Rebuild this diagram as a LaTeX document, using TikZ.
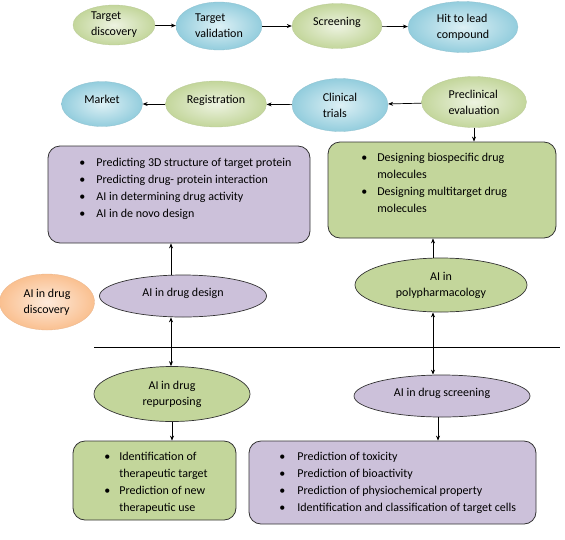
\documentclass[tikz,border=0pt]{standalone}
\usepackage{fontspec}
\setmainfont{Carlito}
\usepackage{tikz}
\usetikzlibrary{shapes.geometric,arrows.meta,positioning,calc}

\definecolor{lilac}{HTML}{CCC1DA}
\definecolor{leaf}{HTML}{C3D69B}
\definecolor{leaflight}{HTML}{EDF3E1}
\definecolor{sky}{HTML}{93CDDD}
\definecolor{skylight}{HTML}{DDF0F5}
\definecolor{peach}{HTML}{FAC090}
\definecolor{peachlight}{HTML}{FDEADB}
\definecolor{edge}{HTML}{333333}

\newcommand{\bul}{\textbullet}

\begin{document}
\begin{tikzpicture}[
  x=1pt, y=-1pt,
  >={Stealth[length=5pt,width=4pt]},
  line width=0.7pt,
  every node/.style={font=\fontsize{12}{16}\selectfont, inner sep=0pt},
  stage/.style={ellipse, align=left, draw=#1!85!gray, line width=0.3pt,
                inner color=#1light, outer color=#1},
  aitopic/.style={ellipse, align=center, draw=edge, line width=0.7pt, fill=#1},
  listbox/.style={draw=edge, line width=0.8pt, rounded corners=12pt, fill=#1},
  listtext/.style={anchor=north west, align=left,
                   font=\fontsize{12}{12}\selectfont}
]
\useasboundingbox (0,0) rectangle (565,539);
\renewcommand{\arraystretch}{1.42}

% pipeline
\node[stage=leaf, minimum width=82pt, minimum height=40pt] (tdisc)  at (114,25) {Target\\discovery};
\node[stage=sky,  minimum width=86pt, minimum height=48pt] (tval)   at (219,26) {Target\\validation};
\node[stage=leaf, minimum width=90pt, minimum height=45pt] (scrn)   at (337,26) {Screening\\[-6pt]};
\node[stage=sky,  minimum width=110pt, minimum height=51pt] (hit)   at (463,27) {Hit to lead\\compound};
\node[stage=sky,  minimum width=81pt, minimum height=45pt] (market) at (102,104) {Market\\[-6pt]};
\node[stage=leaf, minimum width=101pt, minimum height=46pt] (regis) at (216,104) {Registration\\[-6pt]};
\node[stage=sky,  minimum width=96pt, minimum height=53pt] (clin)   at (340,105) {Clinical\\trials};
\node[stage=leaf, minimum width=105pt, minimum height=51pt] (precl)  at (474,102) {Preclinical\\evaluation};

\draw[->] (tdisc) -- (tval);
\draw[->] (tval)  -- (scrn);
\draw[->] (scrn)  -- (hit);
\draw[->] (precl) -- (clin);
\draw[->] (clin)  -- (regis);
\draw[->] (regis) -- (market);

% AI branches
\node[stage=peach, minimum width=95pt, minimum height=56pt] (aidisc) at (47,302) {AI in drug\\discovery};

\node[listbox=lilac, minimum width=262pt, minimum height=97pt] (dbox) at (179,194.5) {};
\node[listtext] (dlist) at (79,154) {%
  \begin{tabular}{@{}p{17pt}@{}l@{}}
  \bul & Predicting 3D structure of target protein\\
  \bul & Predicting drug- protein interaction\\
  \bul & AI in determining drug activity\\
  \bul & AI in de novo design
  \end{tabular}};
\node[listbox=leaf, minimum width=228pt, minimum height=96pt] (pbox) at (442,190) {};
\node[listtext] (plist) at (361,149) {%
  \begin{tabular}{@{}p{16pt}@{}l@{}}
  \bul & Designing biospecific drug\\
       & molecules\\
  \bul & Designing multitarget drug\\
       & molecules
  \end{tabular}};

\node[aitopic=lilac, minimum width=167pt, minimum height=42pt] (aidesign) at (183,296) {AI in drug design\\[-8pt]};
\node[aitopic=leaf,  minimum width=172pt, minimum height=54pt] (aipoly)   at (441,285) {AI in\\polypharmacology};

\coordinate (sepl) at (94,347);
\coordinate (sepr) at (560,347);
\draw[line width=0.8pt] (sepl) -- (sepr);

\node[aitopic=leaf,  minimum width=156pt, minimum height=55pt] (airepur)  at (172,394) {AI in drug\\repurposing};
\node[aitopic=lilac, minimum width=176pt, minimum height=42pt] (aiscreen) at (442,396) {AI in drug screening\\[-8pt]};

\node[listbox=leaf, minimum width=163pt, minimum height=79pt] (rbox) at (154.5,480.5) {};
\node[listtext] (rlist) at (104,448) {%
  \begin{tabular}{@{}p{15pt}@{}l@{}}
  \bul & Identification of\\
       & therapeutic target\\
  \bul & Prediction of new\\
       & therapeutic use
  \end{tabular}};
\node[listbox=lilac, minimum width=287pt, minimum height=83pt] (sbox) at (392.5,482.5) {};
\node[listtext] (slist) at (279,448) {%
  \begin{tabular}{@{}p{18pt}@{}l@{}}
  \bul & Prediction of toxicity\\
  \bul & Prediction of bioactivity\\
  \bul & Prediction of physiochemical property\\
  \bul & Identification and classification of target cells
  \end{tabular}};

\draw[->] (precl.south) -- (precl.south |- pbox.north);
\draw[->] ([xshift=-12pt]aidesign.north) -- ([xshift=-12pt]aidesign.north |- dbox.south);
\draw[->] ([xshift=-8pt]aipoly.north) -- ([xshift=-8pt]aipoly.north |- pbox.south);
\draw[<->] ([xshift=-12pt]aidesign.south) -- ([xshift=-12pt]aidesign.south |- airepur.north);
\draw[<->] ([xshift=-8pt]aipoly.south) -- ([xshift=-8pt]aipoly.south |- aiscreen.north);
\draw[->] (airepur.south) -- (airepur.south |- rbox.north);
\draw[->] ([xshift=-4pt]aiscreen.south) -- ([xshift=-4pt]aiscreen.south |- sbox.north);
\end{tikzpicture}
\end{document}
